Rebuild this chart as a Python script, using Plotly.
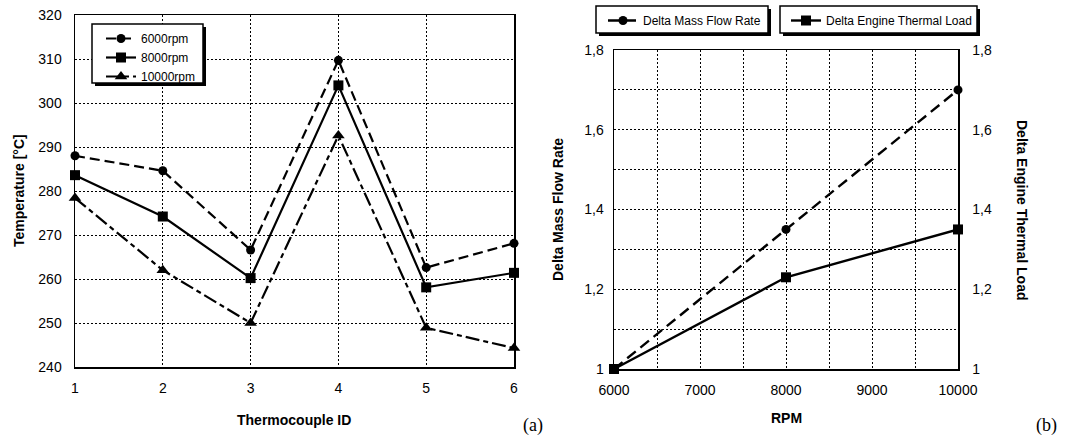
import plotly.graph_objects as go

W, H = 1081, 437

# ---------------- data ----------------
thermocouple_ids = [1, 2, 3, 4, 5, 6]
temp_6000 = [288.0, 284.6, 266.6, 309.7, 262.6, 268.1]
temp_8000 = [283.6, 274.2, 260.2, 304.0, 258.1, 261.4]
temp_10000 = [278.4, 262.0, 250.0, 292.6, 248.9, 244.3]
series_names_a = ["6000rpm", "8000rpm", "10000rpm"]

rpm = [6000, 8000, 10000]
delta_mass_flow = [1.0, 1.35, 1.70]
delta_thermal_load = [1.0, 1.23, 1.35]
series_names_b = ["Delta Mass Flow Rate", "Delta Engine Thermal Load"]

temp_ticks = [240, 250, 260, 270, 280, 290, 300, 310, 320]
id_ticks = [1, 2, 3, 4, 5, 6]
rpm_ticks = [6000, 7000, 8000, 9000, 10000]
rpm_ticktext = ["6000", "7000", "8000", "9000", "10000"]
delta_ticks = [1.0, 1.2, 1.4, 1.6, 1.8]
delta_ticktext = ["1", "1,2", "1,4", "1,6", "1,8"]


def px(x):
    return x / W


def py(y):
    return 1 - y / H


FONT = "Liberation Sans, Arial, sans-serif"
GRID = dict(showgrid=True, gridcolor="black", gridwidth=1, griddash="2px,2px",
            showline=True, linecolor="black", linewidth=1.5, mirror=True,
            ticks="", zeroline=False, automargin=False,
            tickfont=dict(family=FONT, size=14, color="black"))

fig = go.Figure()

# ---------------- chart (a) ----------------
styles_a = [
    dict(dash="10px,5px", symbol="circle", size=9),
    dict(dash="solid", symbol="square", size=10),
    dict(dash="14px,4px,5px,4px", symbol="triangle-up", size=11),
]
for name, vals, st in zip(series_names_a, [temp_6000, temp_8000, temp_10000], styles_a):
    fig.add_trace(go.Scatter(
        x=thermocouple_ids, y=vals, name=name, mode="lines+markers",
        line=dict(color="black", width=2.2, dash=st["dash"]),
        marker=dict(symbol=st["symbol"], size=st["size"], color="black"),
        cliponaxis=False, xaxis="x", yaxis="y", legend="legend"))

# ---------------- chart (b) ----------------
fig.add_trace(go.Scatter(
    x=rpm, y=delta_mass_flow, name=series_names_b[0], mode="lines+markers",
    line=dict(color="black", width=2.4, dash="11px,6px"),
    marker=dict(symbol="circle", size=9, color="black"),
    cliponaxis=False, xaxis="x2", yaxis="y2", legend="legend2"))
fig.add_trace(go.Scatter(
    x=rpm, y=delta_thermal_load, name=series_names_b[1], mode="lines+markers",
    line=dict(color="black", width=2.4),
    marker=dict(symbol="square", size=10, color="black"),
    cliponaxis=False, xaxis="x2", yaxis="y3", legend="legend3"))

LEG = dict(xanchor="left", yanchor="top", bgcolor="rgba(0,0,0,0)", borderwidth=0,
           font=dict(family=FONT, size=12, color="black"))

fig.update_layout(
    width=W, height=H,
    margin=dict(l=0, r=0, t=0, b=0, autoexpand=False),
    paper_bgcolor="white", plot_bgcolor="white",
    separators=",.",
    hovermode=False,
    font=dict(family=FONT, color="black"),
    xaxis=dict(GRID, domain=[px(75), px(514)], range=[1, 6], tickvals=id_ticks,
               anchor="y", ticklabelstandoff=8),
    yaxis=dict(GRID, domain=[py(367), py(15)], range=[240, 320], tickvals=temp_ticks,
               anchor="x", ticklabelstandoff=9),
    xaxis2=dict(GRID, domain=[px(614), px(958)], range=[6000, 10000], tickvals=rpm_ticks,
                ticktext=rpm_ticktext, anchor="y2", ticklabelstandoff=8,
                minor=dict(dtick=500, showgrid=True, gridcolor="black", gridwidth=1,
                           griddash="2px,2px", ticks="")),
    yaxis2=dict(GRID, domain=[py(369), py(50)], range=[1, 1.8], tickvals=delta_ticks,
                ticktext=delta_ticktext, anchor="x2", ticklabelstandoff=6,
                minor=dict(dtick=0.1, showgrid=True, gridcolor="black", gridwidth=1,
                           griddash="2px,2px", ticks="")),
    yaxis3=dict(GRID, range=[1, 1.8], tickvals=delta_ticks, ticktext=delta_ticktext,
                overlaying="y2", side="right", anchor="x2", showgrid=False,
                ticklabelstandoff=10),
    legend=dict(LEG, x=px(101), y=py(24), tracegroupgap=0),
    legend2=dict(LEG, x=px(603), y=py(6)),
    legend3=dict(LEG, x=px(786), y=py(6)),
)

# legend boxes with drop shadows
boxes = [(92, 24, 203, 83), (596, 6, 768, 33), (780, 6, 977, 33)]
for (x0, y0, x1, y1) in boxes:
    fig.add_shape(type="rect", xref="paper", yref="paper",
                  x0=px(x0 + 3), x1=px(x1 + 3), y0=py(y0 + 3), y1=py(y1 + 3),
                  fillcolor="black", line=dict(width=0), layer="above")
    fig.add_shape(type="rect", xref="paper", yref="paper",
                  x0=px(x0), x1=px(x1), y0=py(y0), y1=py(y1),
                  fillcolor="white", line=dict(color="black", width=1.5), layer="above")

title_font = dict(family=FONT, size=14, color="black")
serif = dict(family="Liberation Serif, Times New Roman, serif", size=18, color="black")
ann = [
    ("Temperature [°C]", 19, 191, -90, title_font),
    ("Thermocouple ID", 294.5, 420, 0, title_font),
    ("Delta Mass Flow Rate", 558, 210, -90, title_font),
    ("RPM", 786, 418, 0, title_font),
    ("Delta Engine Thermal Load", 1022, 210, 90, title_font),
    ("(a)", 533, 425, 0, serif),
    ("(b)", 1046, 425, 0, serif),
]
for text, x, y, ang, f in ann:
    fig.add_annotation(text=("<b>%s</b>" % text) if f is title_font else text,
                       x=px(x), y=py(y), xref="paper", yref="paper",
                       showarrow=False, textangle=ang, font=f,
                       xanchor="center", yanchor="middle")

fig.write_html("out.html", config={"displayModeBar": False, "staticPlot": True},
               post_script="document.body.style.margin='0';document.body.style.overflow='hidden';")
